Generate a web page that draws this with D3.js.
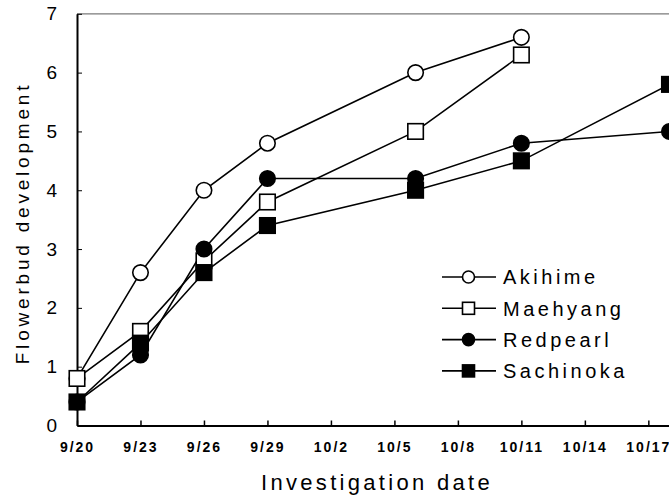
<!DOCTYPE html>
<html>
<head>
<meta charset="utf-8">
<script src="https://cdn.jsdelivr.net/npm/d3@7/dist/d3.min.js"></script>
<style>
  html, body { margin: 0; padding: 0; background: #fff; }
  svg { display: block; font-family: "Liberation Sans", Arial, sans-serif; }
</style>
</head>
<body>
<svg id="chart" width="669" height="504"></svg>
<script>
// Investigation dates (month/day) and flowerbud development scores per cultivar
const akihimeDates   = ["9/20", "9/23", "9/26", "9/29", "10/6", "10/11"];
const akihimeValues  = [0.8, 2.6, 4.0, 4.8, 6.0, 6.6];
const maehyangDates  = ["9/20", "9/23", "9/26", "9/29", "10/6", "10/11"];
const maehyangValues = [0.8, 1.6, 2.8, 3.8, 5.0, 6.3];
const redpearlDates  = ["9/20", "9/23", "9/26", "9/29", "10/6", "10/11", "10/18"];
const redpearlValues = [0.4, 1.2, 3.0, 4.2, 4.2, 4.8, 5.0];
const sachinokaDates  = ["9/20", "9/23", "9/26", "9/29", "10/6", "10/11", "10/18"];
const sachinokaValues = [0.4, 1.4, 2.6, 3.4, 4.0, 4.5, 5.8];

const xTickLabels = ["9/20", "9/23", "9/26", "9/29", "10/2", "10/5", "10/8", "10/11", "10/14", "10/17"];
const yTickValues = [0, 1, 2, 3, 4, 5, 6, 7];
const xDomainLabels = ["9/20", "10/18"];

const parseDay = d3.utcParse("%m/%d");

const series = [
  { name: "Akihime",   dates: akihimeDates,   values: akihimeValues,   shape: "circle", fill: "#fff" },
  { name: "Maehyang",  dates: maehyangDates,  values: maehyangValues,  shape: "square", fill: "#fff" },
  { name: "Redpearl",  dates: redpearlDates,  values: redpearlValues,  shape: "circle", fill: "#000" },
  { name: "Sachinoka", dates: sachinokaDates, values: sachinokaValues, shape: "square", fill: "#000" }
].map(s => ({ ...s, points: s.dates.map((d, i) => ({ date: parseDay(d), value: s.values[i] })) }));

const svg = d3.select("#chart");
const plotLeft = 77, plotRight = 669.5, plotTop = 13.8, plotBottom = 425.5;

const x = d3.scaleUtc()
  .domain(xDomainLabels.map(parseDay))
  .range([plotLeft, plotRight]);
const y = d3.scaleLinear().domain([0, 7]).range([plotBottom, plotTop]);

// top frame line
svg.append("line")
  .attr("x1", plotLeft).attr("x2", 669).attr("y1", plotTop).attr("y2", plotTop)
  .attr("stroke", "#7a7a7a").attr("stroke-width", 1.2);

// y axis with inward ticks
const yAxis = svg.append("g")
  .attr("transform", `translate(${plotLeft},0)`)
  .call(d3.axisLeft(y).tickValues(yTickValues).tickFormat(d3.format("d"))
    .tickSize(-5).tickPadding(20).tickSizeOuter(0));
yAxis.select(".domain").attr("stroke", "#000").attr("stroke-width", 2);
yAxis.selectAll(".tick line").attr("stroke", "#000").attr("stroke-width", 1);
yAxis.selectAll(".tick text")
  .attr("font-size", 19).attr("fill", "#000")
  .attr("font-family", "'Liberation Sans', Arial, sans-serif");

// x axis with inward ticks
const xAxis = svg.append("g")
  .attr("transform", `translate(0,${plotBottom})`)
  .call(d3.axisBottom(x)
    .tickValues(xTickLabels.map(parseDay))
    .tickFormat((d, i) => xTickLabels[i])
    .tickSize(-5).tickPadding(17).tickSizeOuter(0));
xAxis.select(".domain").attr("stroke", "#000").attr("stroke-width", 2);
xAxis.selectAll(".tick line").attr("stroke", "#000").attr("stroke-width", 1.5);
xAxis.selectAll(".tick text")
  .attr("font-size", 14).attr("font-weight", "bold").attr("fill", "#000")
  .attr("letter-spacing", "2px")
  .attr("font-family", "'Liberation Sans', Arial, sans-serif");

// axis titles
svg.append("text")
  .attr("x", 377).attr("y", 490)
  .attr("text-anchor", "middle")
  .attr("font-size", 22).attr("letter-spacing", "3.3px")
  .text("Investigation date");

svg.append("text")
  .attr("transform", "translate(29,223) rotate(-90)")
  .attr("text-anchor", "middle")
  .attr("font-size", 19).attr("letter-spacing", "3.8px")
  .text("Flowerbud development");

const line = d3.line().x(d => x(d.date)).y(d => y(d.value));

// connecting lines
svg.append("g").selectAll("path")
  .data(series).join("path")
  .attr("d", s => line(s.points))
  .attr("fill", "none").attr("stroke", "#000").attr("stroke-width", 1.6);

function drawMarker(g, s, cx, cy, size) {
  if (s.shape === "circle") {
    g.append("circle").attr("cx", cx).attr("cy", cy).attr("r", size / 2)
      .attr("fill", s.fill).attr("stroke", "#000").attr("stroke-width", 1.6);
  } else {
    g.append("rect").attr("x", cx - size / 2).attr("y", cy - size / 2)
      .attr("width", size).attr("height", size)
      .attr("fill", s.fill).attr("stroke", "#000").attr("stroke-width", 1.6);
  }
}

// markers
const markers = svg.append("g");
series.forEach(s => {
  const g = markers.append("g");
  s.points.forEach(p => drawMarker(g, s, x(p.date), y(p.value), 15.5));
});

// legend
const legend = svg.append("g");
series.forEach((s, i) => {
  const ry = 277 + i * 31.3;
  legend.append("line")
    .attr("x1", 442).attr("x2", 496).attr("y1", ry).attr("y2", ry)
    .attr("stroke", "#000").attr("stroke-width", 1.6);
  drawMarker(legend, s, 468.5, ry, 12);
  legend.append("text")
    .attr("x", 503).attr("y", ry).attr("dy", "0.36em")
    .attr("font-size", 20).attr("letter-spacing", "3.5px")
    .text(s.name);
});
</script>
</body>
</html>
